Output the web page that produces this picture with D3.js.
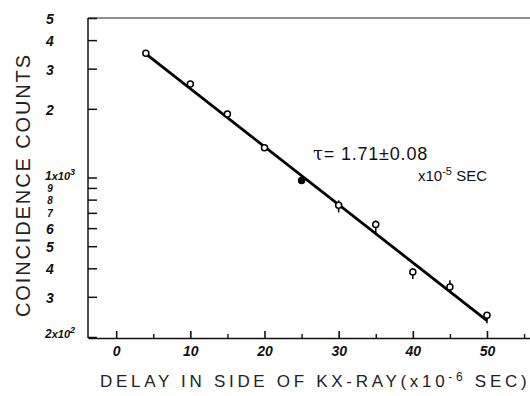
<!DOCTYPE html>
<html><head><meta charset="utf-8">
<script src="https://cdn.jsdelivr.net/npm/d3@7/dist/d3.min.js"></script>
<style>body{margin:0;background:#fff}svg{display:block}</style>
</head><body>
<svg id="c" width="530" height="396"></svg>
<script>
// Data
const delays = [4, 10, 15, 20, 25, 30, 35, 40, 45, 50];
const counts = [3500, 2570, 1900, 1350, 970, 755, 623, 385, 331, 249];
const errLow  = [null, null, null, null, null, 703, 569, 359, 315, 230];
const errHigh = [null, null, null, null, null, 794, 649, 401, 355, 257];
const filled  = [false, false, false, false, true, false, false, false, false, false];
const fitX = [4, 50];
const fitY = [3480, 236];
const xMajor = [0, 10, 20, 30, 40, 50];
const xMinor = [5, 15, 25, 35, 45, 55];
const yTicks = [200, 300, 400, 500, 600, 700, 800, 900, 1000, 2000, 3000, 4000, 5000];
const yLabels = ["", "3", "4", "5", "6", "7", "8", "9", "", "2", "3", "4", "5"];

(function () {
const svg = d3.select("#c");
const pL = 88, pR = 530, pT = 18, pB = 338;
const x = d3.scaleLinear().domain([-3.8, 55.8]).range([pL, pR]);
const y = d3.scaleLog().domain([200, 5000]).range([pB - 1, pT]);

const font = "'Liberation Sans', Arial, sans-serif";

// top border
svg.append("line").attr("x1", pL).attr("x2", pR).attr("y1", pT).attr("y2", pT)
  .attr("stroke", "#222").attr("stroke-width", 1.2);

// x axis
const gx = svg.append("g").attr("transform", `translate(0,${pB})`)
  .call(d3.axisBottom(x).tickValues(xMajor).tickSizeInner(-7).tickSizeOuter(0).tickPadding(0));
gx.select(".domain").attr("stroke", "#111").attr("stroke-width", 1.5);
gx.selectAll(".tick line").attr("stroke", "#111").attr("stroke-width", 1.6);
gx.selectAll(".tick text").attr("y", 18).attr("dy", 0)
  .attr("font-family", font).attr("font-style", "italic").attr("font-weight", "bold")
  .attr("font-size", 14).attr("fill", "#111");
const gxm = svg.append("g").attr("transform", `translate(0,${pB})`)
  .call(d3.axisBottom(x).tickValues(xMinor).tickSizeInner(-4).tickSizeOuter(0).tickFormat(""));
gxm.select(".domain").remove();
gxm.selectAll(".tick line").attr("stroke", "#111").attr("stroke-width", 1.4);

// y axis
const gy = svg.append("g").attr("transform", `translate(${pL},0)`)
  .call(d3.axisLeft(y).tickValues(yTicks).tickSizeInner(-9).tickSizeOuter(0).tickFormat(""));
gy.select(".domain").attr("stroke", "#111").attr("stroke-width", 1.5)
  .attr("d", `M0,${pT}V${pB}`);
gy.selectAll(".tick line").attr("stroke", "#111").attr("stroke-width", 1.5);

// y tick labels
yTicks.forEach((v, i) => {
  if (!yLabels[i]) return;
  const small = (v >= 700 && v <= 900);
  svg.append("text").attr("x", 50).attr("y", y(v) + (small ? 4 : 6))
    .attr("text-anchor", "middle").attr("font-family", font)
    .attr("font-style", "italic").attr("font-weight", "bold")
    .attr("font-size", small ? 10 : 14).attr("fill", "#111").text(yLabels[i]);
});
function powLabel(xp, yp, base, exp) {
  const t = svg.append("text").attr("x", xp).attr("y", yp).attr("font-family", font)
    .attr("font-style", "italic").attr("font-weight", "bold").attr("fill", "#111").attr("font-size", 12);
  t.append("tspan").text(base);
  t.append("tspan").attr("font-size", 11).text("x10");
  t.append("tspan").attr("dy", -5).attr("font-size", 9).text(exp);
}
powLabel(45, y(1000) + 2, "1", "3");
powLabel(45, y(200) + 1, "2", "2");

// fit line
svg.append("line").attr("x1", x(fitX[0])).attr("y1", y(fitY[0]))
  .attr("x2", x(fitX[1])).attr("y2", y(fitY[1]))
  .attr("stroke", "#000").attr("stroke-width", 2.8);

// error bars
delays.forEach((d, i) => {
  if (errLow[i] == null) return;
  svg.append("line").attr("x1", x(d)).attr("x2", x(d))
    .attr("y1", y(errLow[i])).attr("y2", y(errHigh[i]))
    .attr("stroke", "#000").attr("stroke-width", 1.5);
});
// points
svg.selectAll("circle.pt").data(delays).enter().append("circle").attr("class", "pt")
  .attr("cx", d => x(d)).attr("cy", (d, i) => y(counts[i])).attr("r", 3)
  .attr("fill", (d, i) => filled[i] ? "#000" : "#fff")
  .attr("stroke", "#000").attr("stroke-width", 1.5);

// annotation
const a1 = svg.append("text").attr("x", 313).attr("y", 160).attr("font-family", font)
  .attr("font-size", 18).attr("fill", "#111").attr("letter-spacing", 0.8);
a1.append("tspan").attr("font-family", "'DejaVu Serif', serif").text("τ");
a1.append("tspan").text("= 1.71±0.08");
const a2 = svg.append("text").attr("x", 418).attr("y", 181).attr("font-family", font)
  .attr("font-size", 15).attr("fill", "#111");
a2.append("tspan").text("x10");
a2.append("tspan").attr("dy", -6).attr("font-size", 11).text("-5");
a2.append("tspan").attr("dy", 6).text(" SEC");

// axis titles
const xt = svg.append("text").attr("x", 100).attr("y", 387).attr("font-family", font)
  .attr("font-size", 17).attr("fill", "#222").attr("letter-spacing", 3.7);
xt.append("tspan").text("DELAY IN SIDE OF KX-RAY(x10");
xt.append("tspan").attr("dy", -6).attr("font-size", 12).text("-6");
xt.append("tspan").attr("dy", 6).text(" SEC)");

svg.append("text").attr("transform", "translate(30,186) rotate(-90)")
  .attr("text-anchor", "middle").attr("font-family", font).attr("font-size", 20)
  .attr("fill", "#222").attr("textLength", 262).attr("lengthAdjust", "spacing")
  .text("COINCIDENCE COUNTS");
})();
</script>
</body></html>
